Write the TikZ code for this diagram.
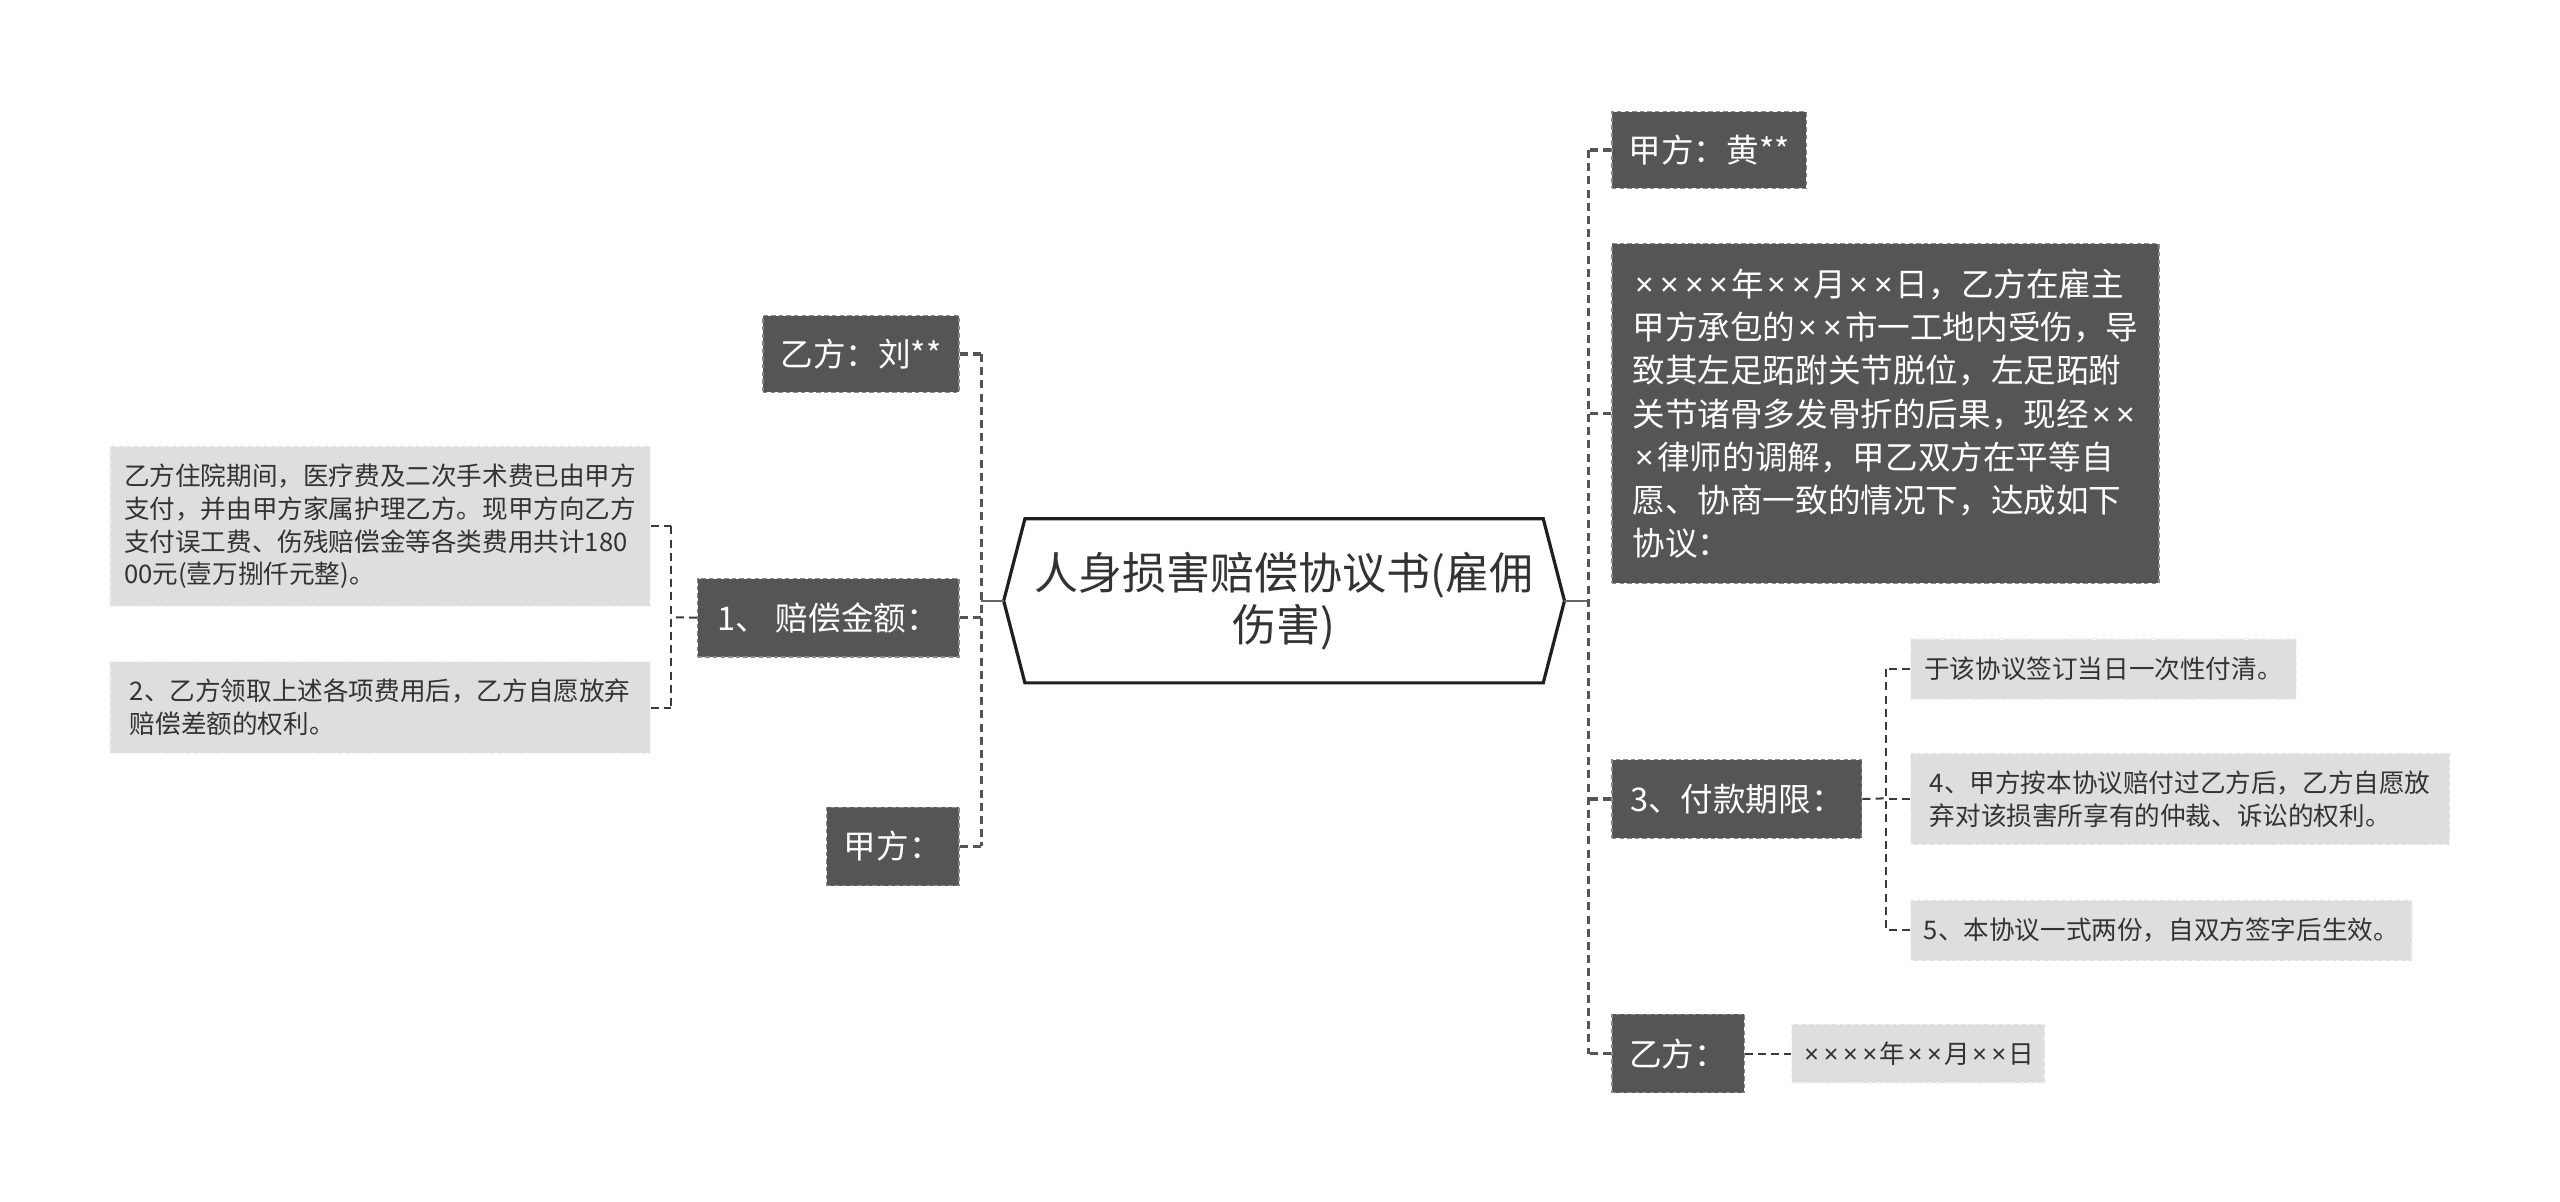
\documentclass[tikz,border=0pt]{standalone}
\usepackage{fontspec}
\setmainfont{Noto Sans CJK SC}
\newfontfamily\latinx{Noto Sans}
\newcommand\xm{\makebox[0.76em]{\latinx ×}}
\newlength\sk
\setlength\sk{0.8163pt}
\definecolor{boxdark}{HTML}{555555}
\definecolor{boxdarkedge}{HTML}{8A8A8A}
\definecolor{boxlight}{HTML}{DEDEDE}
\definecolor{boxlightedge}{HTML}{F2F2F2}
\definecolor{linec}{HTML}{555555}
\definecolor{linec2}{HTML}{3A3A3A}
\definecolor{textdark}{HTML}{333333}
\begin{document}
\begin{tikzpicture}[x=0.8163pt,y=-0.8163pt,
  dark/.style={fill=boxdark, draw=boxdarkedge, dash pattern=on 2.2pt off 1.6pt, line width=0.6pt,
    text=white, font=\fontsize{16.3}{21.6}\selectfont, inner sep=0pt, anchor=north west, align=left},
  light/.style={fill=boxlight, draw=boxlightedge, dash pattern=on 2.2pt off 1.6pt, line width=0.6pt,
    text=textdark, font=\fontsize{12.8}{16.4}\selectfont, inner sep=0pt, anchor=north west, align=left},
  conn/.style={draw=linec, line width=1.6pt, dash pattern=on 4pt off 2.6pt},
  conntwo/.style={draw=linec2, line width=1.0pt, dash pattern=on 4pt off 2.6pt},
  solidconn/.style={draw=black!60, line width=1.3pt}]
\useasboundingbox (0,0) rectangle (1568,736);
\fill[white] (0,0) rectangle (1568,736);

% root
\node[minimum width=343\sk, minimum height=100\sk, inner sep=0pt, align=center,
  text=textdark, font=\fontsize{22}{26}\selectfont] (root) at (786.5,368) {人身损害赔偿协议书(雇佣\\伤害)};
\draw[draw=black!88, line width=1.6pt, fill=white] (root.west) -- ([xshift=13\sk]root.north west) -- ([xshift=-13\sk]root.north east)
  -- (root.east) -- ([xshift=-13\sk]root.south east) -- ([xshift=13\sk]root.south west) -- cycle;
\node[align=center, text=textdark, font=\fontsize{22}{26}\selectfont] at (root) {人身损害赔偿协议书(雇佣\\伤害)};

% left side
\node[dark, minimum width=120\sk, minimum height=47\sk, align=center] (l1) at (467,193) {乙方：刘**};
\node[dark, minimum width=160\sk, minimum height=48\sk, align=center] (l2) at (427,354) {1、 赔偿金额：};
\node[dark, minimum width=81\sk, minimum height=48\sk, align=center] (l3) at (506,494) {甲方：};
\node[light, minimum width=331\sk, minimum height=98\sk] (lc1) at (67,273)
  {乙方住院期间，医疗费及二次手术费已由甲方\\支付，并由甲方家属护理乙方。现甲方向乙方\\支付误工费、伤残赔偿金等各类费用共计180\\00元(壹万捌仟元整)。};
\node[light, minimum width=331\sk, minimum height=56\sk] (lc2) at (67,405)
  {2、乙方领取上述各项费用后，乙方自愿放弃\\赔偿差额的权利。};

\coordinate (tl) at (601,368);
\coordinate (tl2) at (411,378);
\draw[solidconn] (root.west) -- (tl);
\draw[conn] (l1.east) -- (l1.east -| tl);
\draw[conn] (l2.east) -- (l2.east -| tl);
\draw[conn] (l3.east) -- (l3.east -| tl);
\draw[conn] (l1.east -| tl) -- (l3.east -| tl);
\draw[conntwo] (l2.west) -- (tl2);
\draw[conntwo] (lc1.east) -- (lc1.east -| tl2);
\draw[conntwo] (lc2.east) -- (lc2.east -| tl2);
\draw[conntwo] (lc1.east -| tl2) -- (lc2.east -| tl2);

% right side
\node[dark, minimum width=119\sk, minimum height=47\sk, align=center] (r1) at (987,68) {甲方：黄**};
\node[dark, minimum width=335\sk, minimum height=208\sk] (r2) at (987,149)
  {\xm\xm\xm\xm 年\xm\xm 月\xm\xm 日，乙方在雇主\\甲方承包的\xm\xm 市一工地内受伤，导\\致其左足跖跗关节脱位，左足跖跗\\关节诸骨多发骨折的后果，现经\xm\xm\\\xm 律师的调解，甲乙双方在平等自\\愿、协商一致的情况下，达成如下\\协议：};
\node[dark, minimum width=153\sk, minimum height=48\sk, align=center] (r3) at (987,465) {3、付款期限：};
\node[dark, minimum width=81\sk, minimum height=48\sk, align=center] (r4) at (987,621) {乙方：};

\node[light, minimum width=236\sk, minimum height=37\sk] (rc1) at (1170,391) {于该协议签订当日一次性付清。};
\node[light, minimum width=330\sk, minimum height=56\sk] (rc2) at (1170,461)
  {4、甲方按本协议赔付过乙方后，乙方自愿放\\弃对该损害所享有的仲裁、诉讼的权利。};
\node[light, minimum width=307\sk, minimum height=37\sk] (rc3) at (1170,551) {5、本协议一式两份，自双方签字后生效。};
\node[light, minimum width=155\sk, minimum height=36\sk] (rd) at (1097,627) {\xm\xm\xm\xm 年\xm\xm 月\xm\xm 日};

\coordinate (tr) at (973,368);
\coordinate (tr2) at (1155,489);
\draw[solidconn] (root.east) -- (tr);
\draw[conn] (r1.west) -- (r1.west -| tr);
\draw[conn] (r2.west) -- (r2.west -| tr);
\draw[conn] (r3.west) -- (r3.west -| tr);
\draw[conn] (r4.west) -- (r4.west -| tr);
\draw[conn] (r1.west -| tr) -- (r4.west -| tr);
\draw[conntwo] (r3.east) -- (tr2);
\draw[conntwo] (rc1.west) -- (rc1.west -| tr2);
\draw[conntwo] (rc2.west) -- (rc2.west -| tr2);
\draw[conntwo] (rc3.west) -- (rc3.west -| tr2);
\draw[conntwo] (rc1.west -| tr2) -- (rc3.west -| tr2);
\draw[conntwo] (r4.east) -- (rd.west);
\end{tikzpicture}
\end{document}
